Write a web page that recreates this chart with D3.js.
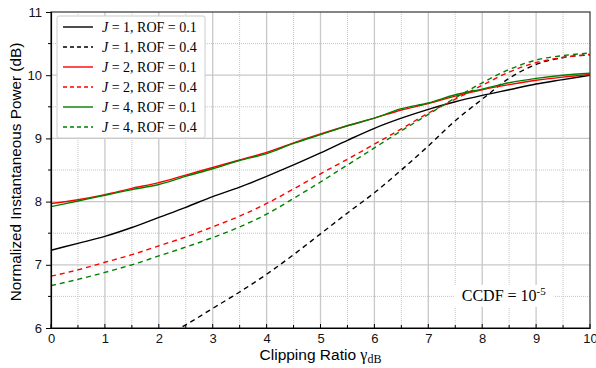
<!DOCTYPE html>
<html>
<head>
<meta charset="utf-8">
<script src="https://cdn.jsdelivr.net/npm/d3@7"></script>
<style>
  body { margin: 0; background: #fff; }
  svg { display: block; }
  .tick text { font-family: "Liberation Sans", Arial, sans-serif; font-size: 13px; fill: #111; }
</style>
</head>
<body>
<svg id="chart" width="596" height="368"></svg>
<script>
// clipping ratio (dB)
var xs = [0, 0.5, 1, 1.5, 2, 2.5, 3, 3.5, 4, 4.5, 5, 5.5, 6, 6.5, 7, 7.5, 8, 8.5, 9, 9.5, 10];

var j1rof01 = [7.23, 7.34, 7.45, 7.59, 7.75, 7.91, 8.08, 8.23, 8.40, 8.58, 8.77, 8.97, 9.16, 9.32, 9.46, 9.58, 9.68, 9.77, 9.86, 9.93, 10.00];
var j1rof04 = [null, null, null, null, 5.82, 6.05, 6.31, 6.57, 6.85, 7.16, 7.49, 7.82, 8.14, 8.50, 8.88, 9.28, 9.62, 9.95, 10.17, 10.28, 10.32];
var j2rof01 = [7.97, 8.03, 8.11, 8.21, 8.30, 8.42, 8.54, 8.66, 8.78, 8.93, 9.07, 9.20, 9.32, 9.45, 9.55, 9.67, 9.77, 9.85, 9.92, 9.97, 10.01];
var j2rof04 = [6.82, 6.92, 7.04, 7.16, 7.30, 7.44, 7.60, 7.77, 7.97, 8.20, 8.44, 8.67, 8.91, 9.15, 9.40, 9.62, 9.84, 10.05, 10.20, 10.28, 10.33];
var j4rof01 = [7.92, 8.01, 8.10, 8.19, 8.27, 8.40, 8.52, 8.65, 8.76, 8.92, 9.06, 9.20, 9.32, 9.47, 9.56, 9.69, 9.78, 9.88, 9.95, 10.00, 10.03];
var j4rof04 = [6.67, 6.77, 6.88, 7.00, 7.14, 7.28, 7.43, 7.60, 7.80, 8.05, 8.31, 8.58, 8.85, 9.12, 9.38, 9.64, 9.88, 10.09, 10.24, 10.31, 10.35];

var xTicks = [0, 1, 2, 3, 4, 5, 6, 7, 8, 9, 10];
var yTicks = [6, 7, 8, 9, 10, 11];

var series = [
  { J: 1, rof: "0.1", values: j1rof01, color: "#000000", dash: null },
  { J: 1, rof: "0.4", values: j1rof04, color: "#000000", dash: "5,4" },
  { J: 2, rof: "0.1", values: j2rof01, color: "#ff0000", dash: null },
  { J: 2, rof: "0.4", values: j2rof04, color: "#ff0000", dash: "5,4" },
  { J: 4, rof: "0.1", values: j4rof01, color: "#008000", dash: null },
  { J: 4, rof: "0.4", values: j4rof04, color: "#008000", dash: "5,4" }
];

var svg = d3.select("#chart");
var m = { left: 51, right: 6, top: 12, bottom: 40 };
var W = 596 - m.left - m.right, H = 368 - m.top - m.bottom;

var x = d3.scaleLinear().domain([0, 10]).range([0, W]);
var y = d3.scaleLinear().domain([6, 11]).range([H, 0]);

var g = svg.append("g").attr("transform", "translate(" + m.left + "," + m.top + ")");

svg.append("defs").append("clipPath").attr("id", "clip")
  .append("rect").attr("width", W).attr("height", H);

// minor dotted grid
var halves = d3.range(0.5, 10, 1);
g.selectAll(".vminor").data(halves).enter().append("line")
  .attr("x1", function(d) { return x(d); }).attr("x2", function(d) { return x(d); })
  .attr("y1", 0).attr("y2", H)
  .attr("stroke", "#c4c4c4").attr("stroke-width", 1).attr("stroke-dasharray", "1,1");
g.selectAll(".hminor").data(d3.range(6.5, 11, 1)).enter().append("line")
  .attr("y1", function(d) { return y(d); }).attr("y2", function(d) { return y(d); })
  .attr("x1", 0).attr("x2", W)
  .attr("stroke", "#c4c4c4").attr("stroke-width", 1).attr("stroke-dasharray", "1,1");

// major grid
g.selectAll(".vmajor").data(xTicks.slice(1, -1)).enter().append("line")
  .attr("x1", function(d) { return x(d); }).attr("x2", function(d) { return x(d); })
  .attr("y1", 0).attr("y2", H)
  .attr("stroke", "#c8c8c8").attr("stroke-width", 1.3);
g.selectAll(".hmajor").data(yTicks.slice(1, -1)).enter().append("line")
  .attr("y1", function(d) { return y(d); }).attr("y2", function(d) { return y(d); })
  .attr("x1", 0).attr("x2", W)
  .attr("stroke", "#c8c8c8").attr("stroke-width", 1.3);

// CCDF note with white backing
var note = g.append("g").attr("transform", "translate(" + (x(8.4)) + "," + (y(6.43)) + ")");
note.append("rect").attr("x", -50).attr("y", -16).attr("width", 100).attr("height", 22).attr("fill", "#fff");
var nt = note.append("text").attr("text-anchor", "middle")
  .style("font-family", "'Liberation Serif', 'DejaVu Serif', serif").style("font-size", "16px").attr("fill", "#000");
nt.append("tspan").text("CCDF = 10");
nt.append("tspan").attr("dy", -6).style("font-size", "11px").text("-5");

// curves
var line = d3.line()
  .defined(function(d) { return d[1] != null; })
  .x(function(d) { return x(d[0]); })
  .y(function(d) { return y(d[1]); })
  .curve(d3.curveMonotoneX);

g.append("g").attr("clip-path", "url(#clip)")
  .selectAll("path").data(series).enter().append("path")
  .attr("d", function(s) { return line(xs.map(function(v, i) { return [v, s.values[i]]; })); })
  .attr("fill", "none")
  .attr("stroke", function(s) { return s.color; })
  .attr("stroke-width", 1.4)
  .attr("stroke-dasharray", function(s) { return s.dash; });

// frame
g.append("rect").attr("width", W).attr("height", H)
  .attr("fill", "none").attr("stroke", "#444").attr("stroke-width", 1.3);

// axes
var xAxis = d3.axisBottom(x).tickValues(xTicks).tickFormat(d3.format("d")).tickSize(0).tickPadding(6);
var gx = g.append("g").attr("transform", "translate(0," + H + ")").call(xAxis);
gx.select(".domain").attr("stroke", "#000").attr("stroke-width", 1.2);
g.selectAll(".xt").data(d3.range(0, 10.01, 0.5)).enter().append("line")
  .attr("x1", function(d) { return x(d); }).attr("x2", function(d) { return x(d); })
  .attr("y1", H).attr("y2", function(d) { return H - (d % 1 === 0 ? 4 : 3); })
  .attr("stroke", "#000");

var yAxis = d3.axisLeft(y).tickValues(yTicks).tickFormat(d3.format("d")).tickSize(5).tickPadding(4);
var gy = g.append("g").call(yAxis);
gy.select(".domain").attr("stroke", "#000").attr("stroke-width", 1.2);
g.selectAll(".yt").data(d3.range(6.5, 11, 1)).enter().append("line")
  .attr("x1", 0).attr("x2", -3)
  .attr("y1", function(d) { return y(d); }).attr("y2", function(d) { return y(d); })
  .attr("stroke", "#000");

// axis titles
var xl = svg.append("text").attr("x", m.left + W / 2).attr("y", 360).attr("text-anchor", "middle")
  .style("font-family", "'Liberation Sans', Arial, sans-serif").style("font-size", "15.5px");
xl.append("tspan").text("Clipping Ratio  ");
xl.append("tspan").style("font-family", "'Liberation Serif', serif").style("font-size", "16px").text("γ");
xl.append("tspan").attr("dy", 3).style("font-family", "'Liberation Serif', serif").style("font-size", "12px").text("dB");

svg.append("text")
  .attr("transform", "translate(21," + (m.top + H / 2 + 2) + ") rotate(-90)")
  .attr("text-anchor", "middle")
  .style("font-family", "'Liberation Sans', Arial, sans-serif").style("font-size", "15.3px")
  .text("Normalized Instantaneous Power (dB)");

// legend
var lg = g.append("g").attr("transform", "translate(6,4)");
lg.append("rect").attr("width", 148).attr("height", 122).attr("rx", 2)
  .attr("fill", "#fff").attr("stroke", "#ccc");
var items = lg.selectAll(".item").data(series).enter().append("g")
  .attr("transform", function(d, i) { return "translate(0," + (11 + i * 20) + ")"; });
items.append("line").attr("x1", 6).attr("x2", 36)
  .attr("stroke", function(d) { return d.color; }).attr("stroke-width", 1.4)
  .attr("stroke-dasharray", function(d) { return d.dash ? "4,3" : null; });
var it = items.append("text").attr("x", 45).attr("y", 5)
  .style("font-family", "'Liberation Serif', 'DejaVu Serif', serif").style("font-size", "14px");
it.append("tspan").style("font-style", "italic").text("J");
it.append("tspan").text(function(d) { return " = " + d.J + ", ROF = " + d.rof; });
</script>
</body>
</html>
